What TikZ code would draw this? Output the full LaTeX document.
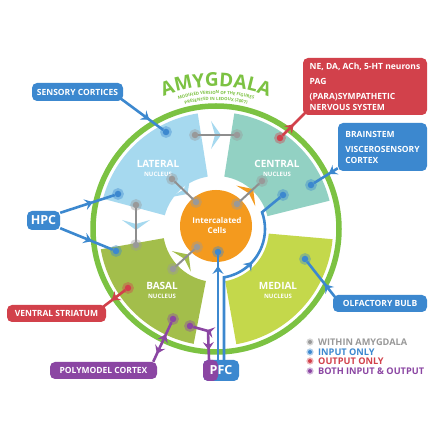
\documentclass[tikz,border=0pt]{standalone}
\usepackage{fontspec}
\setmainfont{Open Sans}
\usepackage{tikz}
\usetikzlibrary{arrows.meta}
\usetikzlibrary{decorations,decorations.markings,decorations.text}
\usetikzlibrary{calc}
\usepackage{xcolor}
\definecolor{latblue}{HTML}{A6D9EF}
\definecolor{cengreen}{HTML}{92D1C3}
\definecolor{medgreen}{HTML}{C4D84B}
\definecolor{basgreen}{HTML}{A3BE4B}
\definecolor{ringgreen}{HTML}{7CC242}
\definecolor{itcorange}{HTML}{F49A1E}
\definecolor{inblue}{HTML}{3C88CF}
\definecolor{outred}{HTML}{D2414B}
\definecolor{bothpurple}{HTML}{8B46A3}
\definecolor{withingray}{HTML}{999999}
\definecolor{linegray}{HTML}{8E8E8E}

\pgfdeclarelayer{front}
\pgfsetlayers{main,front}

\tikzset{
  dot/.style={circle,fill=#1,minimum size=6.5pt,inner sep=0pt,
    preaction={draw=#1,draw opacity=.4,line width=5pt}},
  legdot/.style={circle,fill=#1,minimum size=4pt,inner sep=0pt,
    preaction={draw=#1,draw opacity=.4,line width=3pt}},
  box/.style={rounded corners=5pt,fill=#1,text=white,inner sep=0pt,
    font=\bfseries\fontsize{8.5}{11}\selectfont},
  link/.style={#1,line width=2.6pt},
  grayline/.style={draw=linegray,line width=2pt},
  fwd/.style={postaction={decorate,decoration={markings,
    mark=at position #1 with {\arrow{Stealth[length=8pt,width=11pt,inset=3pt]}}}}},
  bwd/.style={postaction={decorate,decoration={markings,
    mark=at position #1 with {\arrowreversed{Stealth[length=8pt,width=11pt,inset=3pt]}}}}},
  wedge/.style={preaction={decorate,decoration={markings,
    mark=at position .5 with {\fill[#1] (5pt,0pt) -- (-5pt,14pt) -- (-1pt,0pt) -- (-5pt,-14pt) -- cycle;}}}},
  seclabel/.style={text=white,align=center,font=\bfseries\fontsize{10}{10}\selectfont},
  legtext/.style={anchor=west,text=#1,inner sep=0pt,font=\bfseries\fontsize{9.2}{9.2}\selectfont},
}

\begin{document}
\begin{tikzpicture}[x=1pt,y=1pt]
\fill[white] (0,0) rectangle (434,434);
\useasboundingbox (0,0) rectangle (434,434);

% nuclei
\foreach \a/\b/\col in {99/165/latblue,14/81/cengreen,-80/-5/medgreen,190/259/basgreen}
  \fill[\col,shift={(216,205)}] (\a:117) arc[start angle=\a,end angle=\b,radius=117]
    -- (\b:53) arc[start angle=\b,end angle=\a,radius=53] -- cycle;
\draw[ringgreen,line width=5.5pt] (216,205) circle[radius=123];
\fill[itcorange] (216,208) circle[radius=36];

\node[seclabel] (lat) at (158,266) {LATERAL\\[-1pt]{\fontsize{6}{6}\selectfont NUCLEUS}};
\node[seclabel] (cen) at (277,266) {CENTRAL\\[-1pt]{\fontsize{6}{6}\selectfont NUCLEUS}};
\node[seclabel] (bas) at (162,144) {BASAL\\[-1pt]{\fontsize{6}{6}\selectfont NUCLEUS}};
\node[seclabel] (med) at (278,144) {MEDIAL\\[-1pt]{\fontsize{6}{6}\selectfont NUCLEUS}};
\node[text=white,align=center,font=\bfseries\fontsize{8}{10}\selectfont] (itc) at (217,208) {Intercalated\\Cells};

% title
\path[decorate,decoration={text along path,text align=center,
  text={|\color{ringgreen}\bfseries\fontsize{19}{19}\selectfont|AMYGDALA}}]
  (216,205) ++(135:142.5) arc[start angle=135,end angle=45,radius=142.5];
\path[decorate,decoration={text along path,text align=center,
  text={|\color{ringgreen}\bfseries\fontsize{4.3}{4.3}\selectfont|MODIFIED VERSION OF THE FIGURES}}]
  (216,205) ++(135:135) arc[start angle=135,end angle=45,radius=135];
\path[decorate,decoration={text along path,text align=center,
  text={|\color{ringgreen}\bfseries\fontsize{4.3}{4.3}\selectfont|PRESENTED IN LEDOUX (2007)}}]
  (216,205) ++(135:128.7) arc[start angle=135,end angle=45,radius=128.7];

% boxes
\node[box=inblue,minimum width=91pt,minimum height=18pt] (sens) at (77.5,342) {SENSORY CORTICES};
\node[box=inblue,minimum width=33pt,minimum height=19pt,font=\bfseries\fontsize{12.5}{12.5}\selectfont] (hpc) at (43.5,213.5) {HPC};
\node[box=outred,minimum width=124pt,minimum height=57pt,align=left] (neuro) at (365,347.5)
  {NE, DA, ACh, 5-HT neurons\\[4pt]PAG\\[4pt](PARA)SYMPATHETIC\\NERVOUS SYSTEM};
\node[box=inblue,minimum width=89pt,minimum height=48pt,align=left] (brain) at (382.5,287)
  {BRAINSTEM\\[4pt]VISCEROSENSORY\\CORTEX};
\node[box=inblue,minimum width=94pt,minimum height=17pt] (olf) at (380,130.5) {OLFACTORY BULB};
\node[box=outred,minimum width=99pt,minimum height=17pt] (vstr) at (56.5,120.5) {VENTRAL STRIATUM};
\node[box=bothpurple,minimum width=107pt,minimum height=17pt] (poly) at (103.5,63.5) {POLYMODEL CORTEX};
\node[box=inblue,minimum width=36pt,minimum height=21pt,font=\bfseries\fontsize{12.5}{12.5}\selectfont,
  path picture={\fill[bothpurple] (path picture bounding box.south west) rectangle ([xshift=-3pt]path picture bounding box.north);}]
  (pfc) at (221,63.5) {PFC};

% connection points
\begin{pgfonlayer}{front}
\node[dot=inblue] (latS) at (166,302) {};
\node[dot=inblue] (latH) at (118,240) {};
\node[dot=inblue] (basH) at (116,183) {};
\node[dot=inblue] (cenB) at (311,249) {};
\node[dot=inblue] (cenP) at (283,239) {};
\node[dot=inblue] (medO) at (305,175) {};
\node[dot=inblue] (itcP) at (218,182) {};
\node[dot=outred] (cenR) at (280,296) {};
\node[dot=outred] (basR) at (128,146) {};
\node[dot=bothpurple] (basPM) at (173,115) {};
\node[dot=bothpurple] (basPF) at (190,108) {};
\node[dot=withingray] (latA) at (195,299) {};
\node[dot=withingray] (cenA) at (237,299) {};
\node[dot=withingray] (latB) at (172,255) {};
\node[dot=withingray] (itcB) at (196,232) {};
\node[dot=withingray] (latC) at (136,229) {};
\node[dot=withingray] (basC) at (136,189) {};
\node[dot=withingray] (itcD) at (237,230) {};
\node[dot=withingray] (cenD) at (262,253) {};
\node[dot=withingray] (basE) at (173,165) {};
\node[dot=withingray] (itcE) at (197,187) {};
\end{pgfonlayer}
\coordinate (arcstart) at ($(216,205)+(-80.6:49)$);
\coordinate (pfbend) at (208,103);

% within amygdala
\draw[grayline,wedge=latblue] (latA) -- (cenA);
\draw[grayline,wedge=latblue] (latB) -- (itcB);
\draw[grayline,wedge=latblue] (latC) -- (basC);
\draw[grayline,wedge=itcorange] (itcD) -- (cenD);
\draw[grayline,wedge=basgreen] (basE) -- (itcE);

% inputs
\draw[link=inblue,fwd=.68] ([shift={(-3pt,3pt)}]sens.south east) -- (latS);
\draw[link=inblue,fwd=.6] ([yshift=-2pt]hpc.north east) -- (latH);
\draw[link=inblue,fwd=.6] ([yshift=2pt]hpc.south east) -- (basH);
\draw[link=inblue,fwd=.38] ([yshift=3pt]brain.south west) -- (cenB);
\draw[link=inblue,fwd=.36] ([shift={(2pt,-2pt)}]olf.north west) -- (medO);
\draw[link=inblue,fwd=.9] ([xshift=-3pt]pfc.north) -- (itcP);
\draw[link=inblue,fwd=.6] ([xshift=3pt]pfc.north) -- (arcstart)
  arc[start angle=-80.6,end angle=20,radius=49] -- (cenP);

% outputs
\draw[link=outred,fwd=.5] (cenR) -- ([shift={(2pt,2pt)}]neuro.south west);
\draw[link=outred,fwd=.62] (basR) -- ([shift={(-3pt,-2pt)}]vstr.north east);

% both
\draw[link=bothpurple,bwd=.3,fwd=.8] (basPM) -- ([xshift=-4pt]poly.north east);
\draw[link=bothpurple,bwd=.3,fwd=.78] (basPF) -- (pfbend) -- ([xshift=-12pt]pfc.north);

% legend
\node[legdot=withingray] (l1) at (310,92) {};
\node[legdot=inblue] (l2) at (310,82) {};
\node[legdot=outred] (l3) at (310,73) {};
\node[legdot=bothpurple] (l4) at (310,63) {};
\node[legtext=withingray] (t1) at (318,92) {WITHIN AMYGDALA};
\node[legtext=inblue] (t2) at (318,82) {INPUT ONLY};
\node[legtext=outred] (t3) at (318,73) {OUTPUT ONLY};
\node[legtext=bothpurple] (t4) at (318,63) {BOTH INPUT \& OUTPUT};
\end{tikzpicture}
\end{document}
